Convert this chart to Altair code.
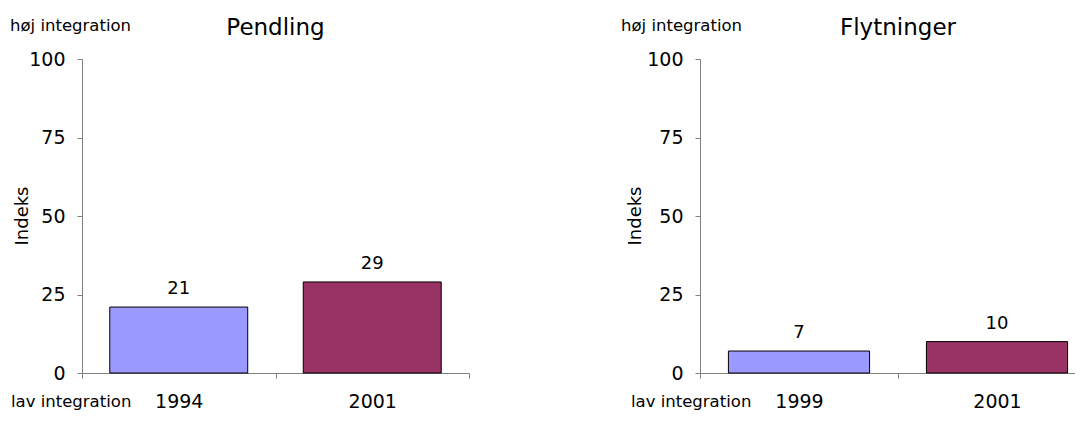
import altair as alt
import pandas as pd

# ---- data ----
pendling_years = ["1994", "2001"]
pendling_values = [21, 29]
flytning_years = ["1999", "2001"]
flytning_values = [7, 10]
bar_colors = ["#9999FF", "#993366"]
y_ticks = [0, 25, 50, 75, 100]

FONT = "DejaVu Sans"
AXIS_GREY = "#808080"
PLOT_H = 314


def panel(title, years, values, width, hoj_x, lav_x, indeks_x):
    df = pd.DataFrame({"year": years, "value": values})
    x = alt.X("year:N", sort=years,
              scale=alt.Scale(paddingInner=0, paddingOuter=0),
              axis=alt.Axis(title=None, labelAngle=0, tickBand="extent",
                            labelPadding=14, tickSize=5))
    y = alt.Y("value:Q", scale=alt.Scale(domain=[0, 100], nice=False),
              axis=alt.Axis(title=None, values=y_ticks, grid=False,
                            labelPadding=12, tickSize=5))
    bars = alt.Chart(df).mark_bar(
        width=alt.RelativeBandSize(0.713), stroke="black", strokeWidth=1
    ).encode(
        x=x, y=y,
        color=alt.Color("year:N", scale=alt.Scale(domain=years, range=bar_colors),
                        legend=None),
    )
    labels = alt.Chart(df).mark_text(
        baseline="bottom", dy=-9, fontSize=18, font=FONT, color="black"
    ).encode(x=alt.X("year:N", sort=years), y="value:Q", text="value:Q")
    one = alt.Data(values=[{"a": 1}])
    ttl = alt.Chart(one).mark_text(
        text=title, align="center", baseline="middle",
        fontSize=23, font=FONT, color="black"
    ).encode(x=alt.value(width / 2), y=alt.value(-31))
    hoj = alt.Chart(one).mark_text(
        text="høj integration", align="left", baseline="middle",
        fontSize=16.5, font=FONT, color="black"
    ).encode(x=alt.value(hoj_x), y=alt.value(-33))
    lav = alt.Chart(one).mark_text(
        text="lav integration", align="left", baseline="middle",
        fontSize=16.5, font=FONT, color="black"
    ).encode(x=alt.value(lav_x), y=alt.value(PLOT_H + 29))
    indeks = alt.Chart(one).mark_text(
        text="Indeks", angle=270, align="center", baseline="middle",
        fontSize=18, font=FONT, color="black"
    ).encode(x=alt.value(indeks_x), y=alt.value(PLOT_H / 2))
    return alt.layer(bars, labels, ttl, hoj, lav, indeks).properties(
        width=width, height=PLOT_H)


left = panel("Pendling", pendling_years, pendling_values, 387, -72, -71, -59)
right = panel("Flytninger", flytning_years, flytning_values, 396, -79, -69, -64)

# the original is cropped at its right edge
chart = alt.hconcat(left, right, spacing=151).properties(
    padding={"left": 2, "top": 9, "right": -22, "bottom": 0}
).configure_view(stroke=None).configure_axis(
    domainColor=AXIS_GREY, tickColor=AXIS_GREY, labelColor="black",
    labelFont=FONT, labelFontSize=19, labelFontWeight="normal",
)

chart.save("out.html", embed_options={"renderer": "svg", "actions": False})
